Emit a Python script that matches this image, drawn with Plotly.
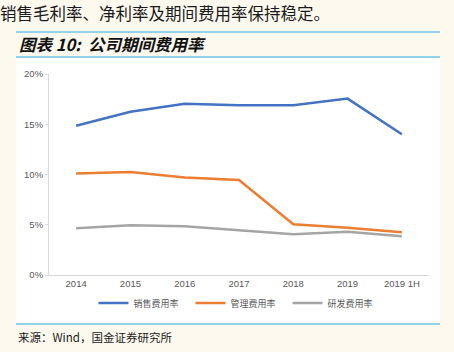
import plotly.graph_objects as go

categories = ["2014", "2015", "2016", "2017", "2018", "2019", "2019 1H"]
sales_exp = [14.85, 16.25, 17.05, 16.9, 16.9, 17.55, 14.0]
admin_exp = [10.1, 10.25, 9.7, 9.45, 5.05, 4.7, 4.25]
rd_exp = [4.65, 4.95, 4.85, 4.45, 4.05, 4.3, 3.85]
series_names = ["销售费用率", "管理费用率", "研发费用率"]
y_ticks = [0, 5, 10, 15, 20]
y_tick_labels = [f"{v}%" for v in y_ticks]

W, H = 454, 352
PL, PR, PT, PB = 49, 429, 74, 275


def fx(x):
    return (x - PL) / (PR - PL)


def fy(y):
    return (PB - y) / (PB - PT)


CJK = "Noto Sans CJK SC"
LAT = "Liberation Sans, Arial, sans-serif"

fig = go.Figure()
colors = ["#4472C4", "#ED7D31", "#A5A5A5"]
for name, vals, c in zip(series_names, [sales_exp, admin_exp, rd_exp], colors):
    fig.add_trace(go.Scatter(x=categories, y=vals, mode="lines", name=name,
                             line=dict(color=c, width=2.5)))

shapes = [
    dict(type="rect", xref="paper", yref="paper", x0=fx(16), x1=fx(440), y0=fy(322), y1=fy(59),
         fillcolor="white", line=dict(width=0), layer="below"),
]
for yy in [32, 57, 324]:
    shapes.append(dict(type="line", xref="paper", yref="paper", x0=fx(16), x1=fx(440),
                       y0=fy(yy), y1=fy(yy), line=dict(color="#6cc5ea", width=1.5)))

annotations = [
    dict(text="销售毛利率、净利率及期间费用率保持稳定。", xref="paper", yref="paper",
         x=fx(-2), y=fy(13), xanchor="left", yanchor="middle", showarrow=False,
         font=dict(family=CJK, size=16.5, color="#1a1a1a")),
    dict(text="<b><i>图表 10:  公司期间费用率</i></b>", xref="paper", yref="paper",
         x=fx(17), y=fy(44), xanchor="left", yanchor="middle", showarrow=False,
         font=dict(family=CJK, size=16.5, color="#111111")),
    dict(text="来源：Wind，国金证券研究所", xref="paper", yref="paper",
         x=fx(16), y=fy(337), xanchor="left", yanchor="middle", showarrow=False,
         font=dict(family=CJK, size=11.5, color="#1a1a1a")),
]

fig.update_layout(
    width=W, height=H,
    margin=dict(l=PL, r=W - PR, t=PT, b=H - PB, pad=0),
    paper_bgcolor="#fdf9ef", plot_bgcolor="white",
    shapes=shapes, annotations=annotations,
    showlegend=True,
    legend=dict(orientation="h", x=0.5, xanchor="center", y=fy(303), yanchor="middle",
                font=dict(family=CJK, size=9, color="#595959"), bgcolor="rgba(0,0,0,0)",
                entrywidth=52, entrywidthmode="pixels", itemwidth=30, tracegroupgap=0),
    xaxis=dict(type="category", range=[-0.5, 6.5], showgrid=False, showline=True,
               linecolor="#d9d9d9", linewidth=1, ticks="", tickfont=dict(family=LAT, size=9.5, color="#595959"),
               fixedrange=True),
    yaxis=dict(range=[0, 20], tickvals=y_ticks, ticktext=y_tick_labels, showgrid=False, zeroline=False,
               showline=True, linecolor="#d9d9d9", linewidth=1, ticks="outside", ticklen=3,
               tickcolor="#d9d9d9", tickfont=dict(family=LAT, size=9.5, color="#595959")),
)

fig.write_html("out.html")
